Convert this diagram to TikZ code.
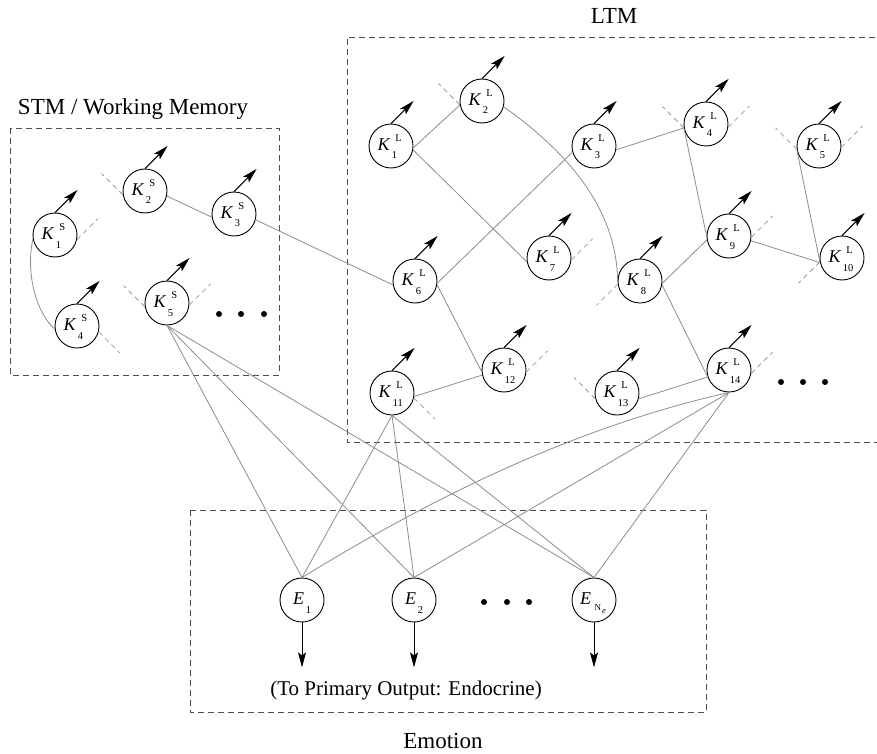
\documentclass[tikz,border=0pt]{standalone}
\usepackage{fontspec}
\setmainfont{Liberation Serif}
\usetikzlibrary{arrows.meta}

\definecolor{linkgray}{gray}{0.55}
\definecolor{stubgray}{gray}{0.6}
\definecolor{boxgray}{gray}{0.3}

% K label: italic K with an upright superscript and subscript, built around the node centre
\newcommand{\KLab}[2]{%
\makebox[0pt][l]{\kern-13.5pt\raisebox{-4.7pt}{\fontsize{18}{18}\selectfont\itshape K}}%
\makebox[0pt][l]{\kern4.3pt\raisebox{4.3pt}{\fontsize{10.5}{10.5}\selectfont #1}}%
\makebox[0pt][l]{\kern0.8pt\raisebox{-13pt}{\fontsize{10.5}{10.5}\selectfont #2}}}
% E label with a numeric subscript
\newcommand{\ELab}[1]{%
\makebox[0pt][l]{\kern-9pt\raisebox{-4.5pt}{\fontsize{18}{18}\selectfont\itshape E}}%
\makebox[0pt][l]{\kern3.8pt\raisebox{-13pt}{\fontsize{10.5}{10.5}\selectfont #1}}}
% E label with subscript N_e
\newcommand{\ENLab}{%
\makebox[0pt][l]{\kern-14pt\raisebox{-4.5pt}{\fontsize{18}{18}\selectfont\itshape E}}%
\makebox[0pt][l]{\kern0.5pt\raisebox{-10.7pt}{\fontsize{9}{9}\selectfont N}}%
\makebox[0pt][l]{\kern8pt\raisebox{-13.3pt}{\fontsize{8.5}{8.5}\selectfont\itshape e}}}

\tikzset{
  kn/.style={circle, draw=black, line width=0.9pt, minimum size=44pt, inner sep=0pt,
             text height=0pt, text depth=0pt},
  link/.style={draw=linkgray, line width=0.8pt},
  stub/.style={draw=stubgray, line width=0.8pt, dash pattern=on 5pt off 4pt},
  region/.style={draw=boxgray, line width=0.9pt, dash pattern=on 6pt off 4pt},
  outarrow/.style={draw=black, line width=1pt, -{Stealth[length=15pt,width=8pt,inset=3pt]}},
  title/.style={font=\fontsize{23}{26}\selectfont, inner sep=0pt, anchor=base},
  dotmark/.style={circle, fill=black, inner sep=0pt, minimum size=6pt},
}

\begin{document}
\begin{tikzpicture}[x=1pt,y=-1pt]
\useasboundingbox (0,0) rectangle (877,754);

% ---- region frames and their titles ----
\draw[region] (10,128) rectangle (279,375);
\draw[region] (885,37) -- (347,37) -- (347,442) -- (885,442);
\draw[region] (190,510) rectangle (706,712);

\node[title] (stm) at (133,115) {STM / Working Memory};
\node[title] (ltm) at (614,24) {LTM};
\node[title] (emo) at (443,748) {Emotion};
\node[title, font=\fontsize{21}{24}\selectfont] (outp) at (406,695) {(To Primary Output: Endocrine)};

% ---- short-term memory units ----
\node[kn] (K1S) at (55,235)  {\KLab{S}{1}};
\node[kn] (K2S) at (145,191) {\KLab{S}{2}};
\node[kn] (K3S) at (234,214) {\KLab{S}{3}};
\node[kn] (K4S) at (77,326)  {\KLab{S}{4}};
\node[kn] (K5S) at (167,303) {\KLab{S}{5}};

% ---- long-term memory units ----
\node[kn] (K1L)  at (391,146) {\KLab{L}{1}};
\node[kn] (K2L)  at (482,101) {\KLab{L}{2}};
\node[kn] (K3L)  at (594,146) {\KLab{L}{3}};
\node[kn] (K4L)  at (706,124) {\KLab{L}{4}};
\node[kn] (K5L)  at (819,146) {\KLab{L}{5}};
\node[kn] (K6L)  at (415,281) {\KLab{L}{6}};
\node[kn] (K7L)  at (549,258) {\KLab{L}{7}};
\node[kn] (K8L)  at (640,281) {\KLab{L}{8}};
\node[kn] (K9L)  at (729,236) {\KLab{L}{9}};
\node[kn] (K10L) at (842,258) {\KLab{L}{10}};
\node[kn] (K11L) at (392,393) {\KLab{L}{11}};
\node[kn] (K12L) at (504,370) {\KLab{L}{12}};
\node[kn] (K13L) at (617,393) {\KLab{L}{13}};
\node[kn] (K14L) at (729,370) {\KLab{L}{14}};

% ---- emotion units ----
\node[kn] (E1)  at (302,600) {\ELab{1}};
\node[kn] (E2)  at (414,600) {\ELab{2}};
\node[kn] (ENe) at (594,600) {\ENLab};

% ---- ellipsis dots ----
\node[dotmark] (sd1) at (219,314) {};
\node[dotmark] (sd2) at (241,314) {};
\node[dotmark] (sd3) at (264,314) {};
\node[dotmark] (ld1) at (781,382) {};
\node[dotmark] (ld2) at (803,382) {};
\node[dotmark] (ld3) at (825,382) {};
\node[dotmark] (ed1) at (484,602) {};
\node[dotmark] (ed2) at (507,602) {};
\node[dotmark] (ed3) at (529,602) {};

% ---- links inside STM and into LTM ----
\draw[link] (K1S.190) .. controls (25,276) and (38,315) .. (K4S.188);
\draw[link] (K2S.-13) -- (K3S.188);
\draw[link] (K3S.-15) -- (K6L.190);

% ---- links inside LTM ----
\draw[link] (K1L.-5)  -- (K2L.190);
\draw[link] (K1L.-10) -- (K7L.190);
\draw[link] (K2L.-15) .. controls (579,160) and (617,218) .. (K8L.180);
\draw[link] (K6L.-5)  -- (K3L.196);
\draw[link] (K6L.-10) -- (K12L.184);
\draw[link] (K3L.-10) -- (K4L.190);
\draw[link] (K4L.192) -- (K9L.180);
\draw[link] (K8L.-6)  -- (K9L.190);
\draw[link] (K9L.-12) -- (K10L.192);
\draw[link] (K5L.191) -- (K10L.190);
\draw[link] (K8L.-10) -- (K14L.198);
\draw[link] (K11L.-9) -- (K12L.193);
\draw[link] (K13L.-15) -- (K14L.198);

% ---- links to the emotion units ----
\foreach \src in {K5S, K11L} {
  \draw[link] (\src.south) -- (E1.north);
  \draw[link] (\src.south) -- (E2.north);
  \draw[link] (\src.south) -- (ENe.north);
}
\draw[link] (K14L.south) .. controls (589,424) and (451,486) .. (E1.north);
\draw[link] (K14L.south) -- (E2.north);
\draw[link] (K14L.south) -- (ENe.north);

% ---- dangling (dashed) connections ----
\draw[stub] (K1S.-12) -- ++(45:30pt);
\draw[stub] (K2S.190) -- ++(135:30pt);
\draw[stub] (K4S.-15) -- ++(-45:30pt);
\draw[stub] (K5S.190) -- ++(135:30pt);
\draw[stub] (K5S.-5)  -- ++(45:30pt);
\draw[stub] (K2L.190) -- ++(135:30pt);
\draw[stub] (K7L.-5)  -- ++(45:30pt);
\draw[stub] (K4L.190) -- ++(135:30pt);
\draw[stub] (K4L.-8)  -- ++(45:30pt);
\draw[stub] (K5L.188) -- ++(135:30pt);
\draw[stub] (K5L.-3)  -- ++(45:30pt);
\draw[stub] (K9L.-3)  -- ++(45:30pt);
\draw[stub] (K10L.190) -- ++(225:30pt);
\draw[stub] (K8L.188) -- ++(225:30pt);
\draw[stub] (K12L.-5) -- ++(45:30pt);
\draw[stub] (K11L.-13) -- ++(-45:30pt);
\draw[stub] (K13L.195) -- ++(135:30pt);
\draw[stub] (K14L.-9) -- ++(45:30pt);

% ---- output arrows of every unit ----
\foreach \u in {K1S,K2S,K3S,K4S,K5S,K1L,K2L,K3L,K4L,K5L,K6L,K7L,K8L,K9L,K10L,K11L,K12L,K13L,K14L}
  \draw[outarrow] (\u.north) -- ++(45:32pt);
\foreach \u in {E1,E2,ENe}
  \draw[outarrow] (\u.south) -- ++(-90:45pt);
\end{tikzpicture}
\end{document}
